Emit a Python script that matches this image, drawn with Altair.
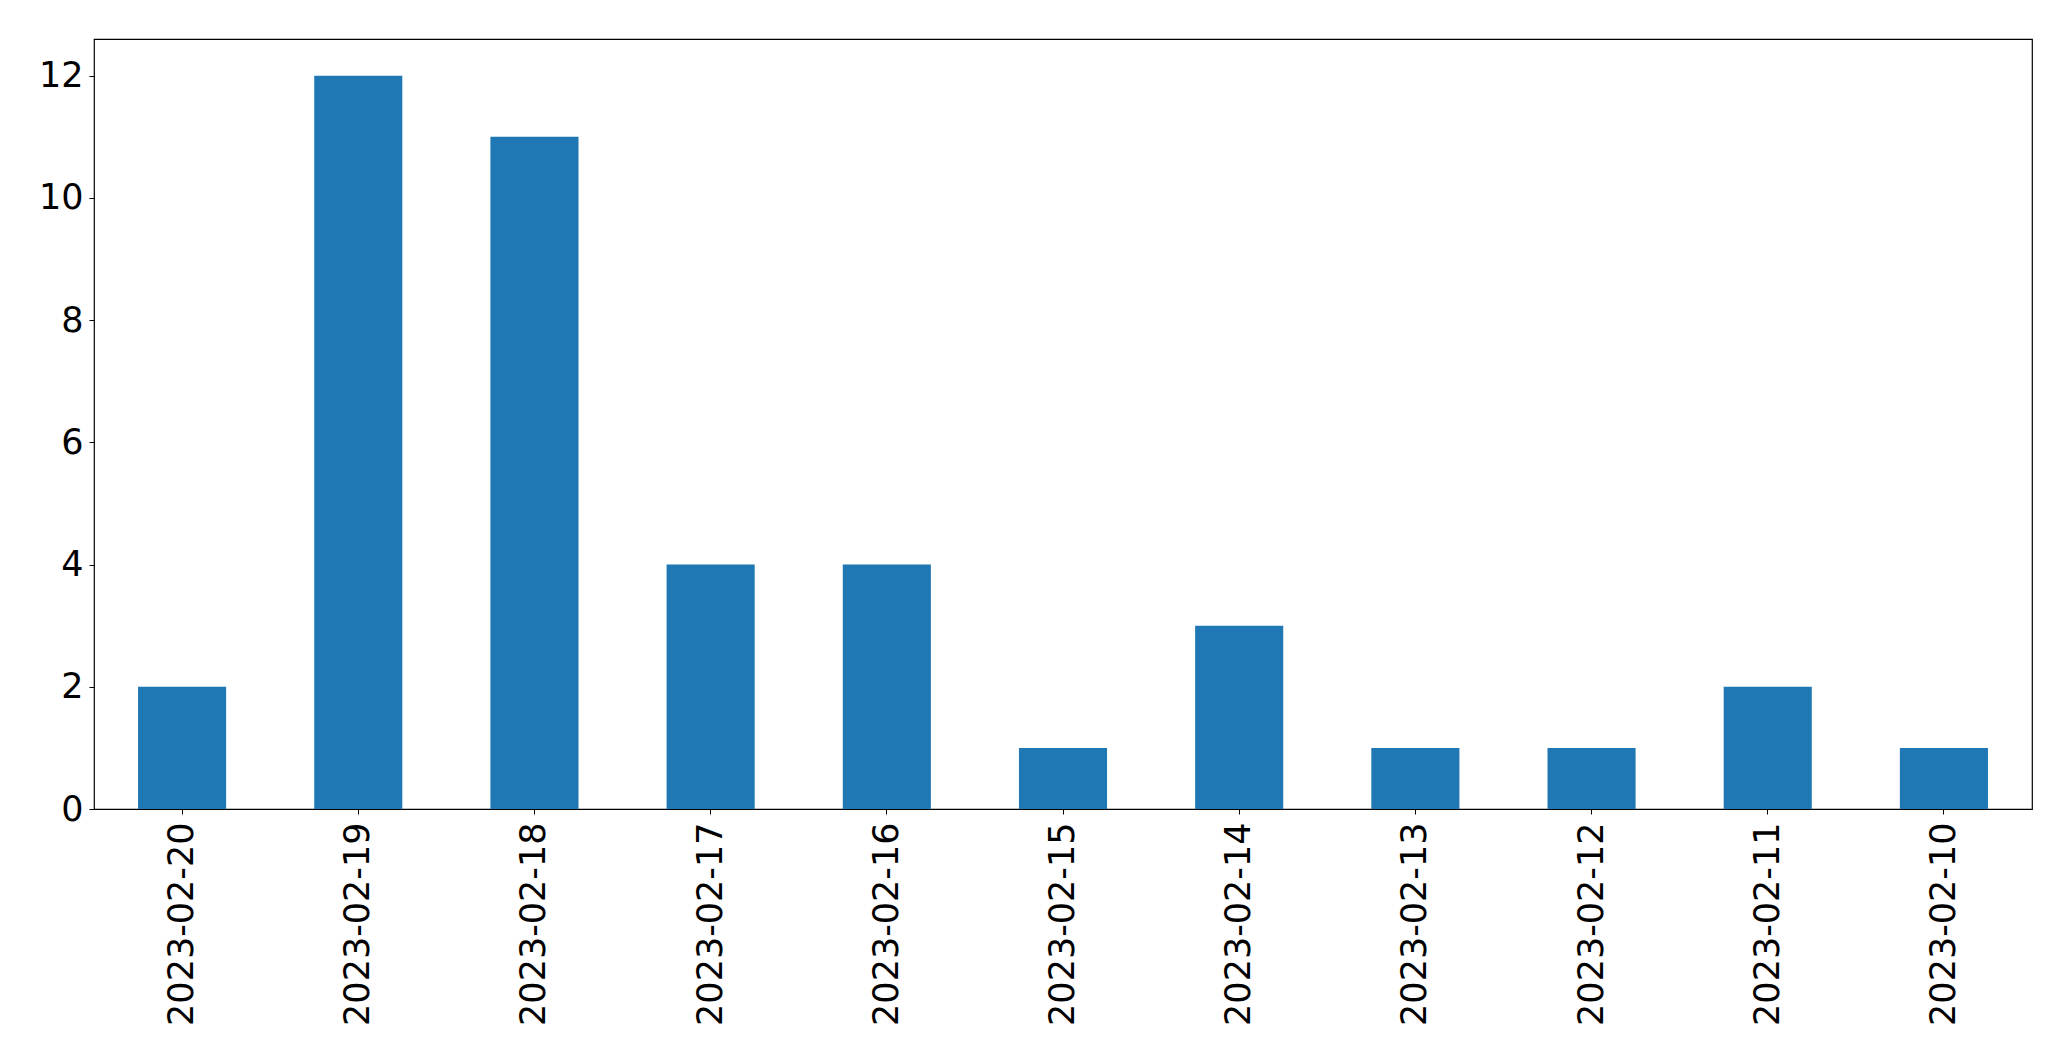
import altair as alt
import pandas as pd

dates = ["2023-02-20", "2023-02-19", "2023-02-18", "2023-02-17", "2023-02-16",
         "2023-02-15", "2023-02-14", "2023-02-13", "2023-02-12", "2023-02-11",
         "2023-02-10"]
counts = [2, 12, 11, 4, 4, 1, 3, 1, 1, 2, 1]
y_ticks = [0, 2, 4, 6, 8, 10, 12]

df = pd.DataFrame({"date": dates, "count": counts})

FONT = "DejaVu Sans"

chart = alt.Chart(df).mark_bar(color="#1f77b4").encode(
    x=alt.X("date:N", sort=dates, title=None,
            scale=alt.Scale(paddingInner=0.5, paddingOuter=0.25),
            axis=alt.Axis(labelAngle=270, labelAlign="right", labelBaseline="middle",
                          labelFontSize=35, labelFont=FONT, labelColor="black",
                          labelLimit=0, labelOverlap=False,
                          tickColor="black", tickSize=5, tickWidth=1,
                          labelPadding=8, domain=False, grid=False)),
    y=alt.Y("count:Q", title=None,
            scale=alt.Scale(domain=[0, 12.6], nice=False, zero=True),
            axis=alt.Axis(values=y_ticks, labelFontSize=35, labelFont=FONT,
                          labelColor="black", tickColor="black", tickSize=5,
                          labelOverlap=False,
                          tickWidth=1, labelPadding=6, domain=False, grid=False)),
).properties(
    width=1938, height=770,
    autosize=alt.AutoSizeParams(type="none"),
    padding={"left": 86, "top": 31, "right": 20, "bottom": 240},
).configure(
    background="white"
).configure_view(stroke="black", strokeWidth=1.2)

chart.save("out.html", embed_options={"renderer": "svg", "actions": False})
